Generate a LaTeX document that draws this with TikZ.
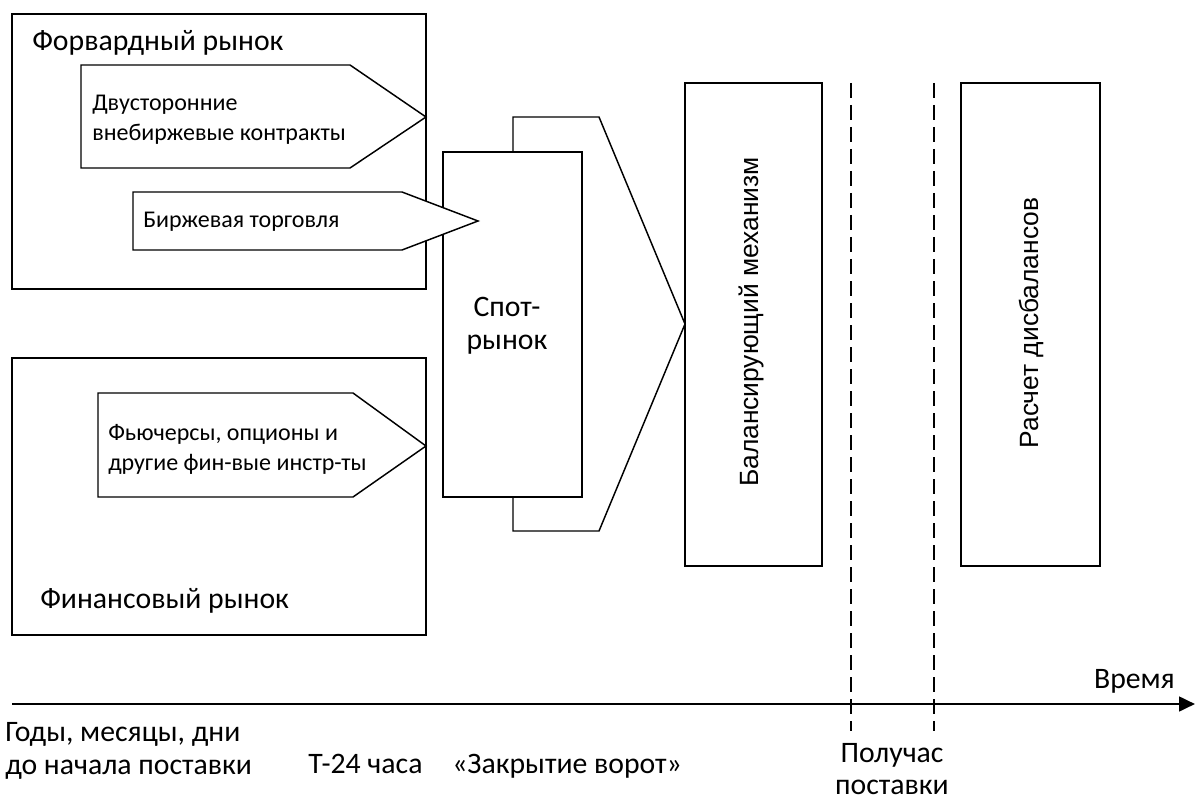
\documentclass[tikz,border=0pt]{standalone}
\usepackage{fontspec}
\setmainfont{Carlito}
\newfontfamily\arialf{Liberation Sans}
\usetikzlibrary{arrows.meta}
\begin{document}
\begin{tikzpicture}[x=0.75pt,y=-0.75pt,
  shapeline/.style={draw=black, line width=1.1pt, fill=white, line join=miter},
  bigtext/.style={font=\fontsize{22.3}{25}\selectfont, inner sep=0pt},
  smalltext/.style={font=\fontsize{18}{22.5}\selectfont, inner sep=0pt, align=left},
  verttext/.style={font=\arialf\fontsize{19.8}{23}\selectfont, rotate=90, inner sep=0pt},
  dline/.style={line width=1.5pt, dash pattern=on 11pt off 5.5pt}]
\useasboundingbox (0,0) rectangle (1195,802);
\fill[white] (0,0) rectangle (1195,802);

% forward market
\draw[shapeline] (12,14) rectangle (426,289);
\node[bigtext, anchor=base west] (fwdT) at (32,51) {Форвардный рынок};
% financial market
\draw[shapeline] (12,358) rectangle (426,635);
\node[bigtext, anchor=base west] (finT) at (40,608) {Финансовый рынок};

% large arrow behind spot market
\draw[shapeline] (513,117) -- (599,117) -- (685,324) -- (599,531) -- (513,531) -- cycle;
% spot market
\draw[shapeline] (443,152) rectangle (582,497);
\node[bigtext, align=center] (spot) at (507,326) {Спот-\\рынок};

% arrow 1
\draw[shapeline] (81,65) -- (350,65) -- (426,117) -- (350,168) -- (81,168) -- cycle;
\node[smalltext, anchor=west] (otc) at (92,120) {Двусторонние\\внебиржевые контракты};
% arrow 2
\draw[shapeline] (133,192) -- (402,192) -- (478,221) -- (402,250) -- (133,250) -- cycle;
\node[smalltext, anchor=west] (exch) at (143,222) {Биржевая торговля};
% arrow 3
\draw[shapeline] (98,393) -- (353,393) -- (426,446) -- (353,497) -- (98,497) -- cycle;
\node[smalltext, anchor=west] (fut) at (108,449) {Фьючерсы, опционы и\\другие фин-вые инстр-ты};

% balancing mechanism
\draw[shapeline] (685,83) rectangle (822,566);
\node[verttext] (bal) at (751,322) {Балансирующий механизм};
% imbalance settlement
\draw[shapeline] (961,83) rectangle (1100,566);
\node[verttext] (calc) at (1031,323) {Расчет дисбалансов};

% dashed lines
\coordinate (d1t) at (851,83); \coordinate (d1b) at (851,731);
\coordinate (d2t) at (934,83); \coordinate (d2b) at (934,731);
\draw[dline] (d1t) -- (d1b);
\draw[dline] (d2t) -- (d2b);

% time axis
\coordinate (ax0) at (12,704);
\coordinate (ax1) at (1195,704);
\draw[line width=2pt, -{Triangle[length=12pt,width=11pt]}] (ax0) -- (ax1);
\node[bigtext, anchor=base east] (time) at (1175,688) {Время};

% labels under axis
\node[bigtext, anchor=base west] (years) at (5,741) {Годы, месяцы, дни};
\node[bigtext, anchor=base west] (years2) at (5,774) {до начала поставки};
\node[bigtext, anchor=base west] (t24) at (308,773) {Т-24 часа};
\node[bigtext, anchor=base west] (gate) at (452,773) {«Закрытие ворот»};
\node[bigtext, anchor=base] (half) at (892,762) {Получас};
\node[bigtext, anchor=base] (half2) at (892,794) {поставки};
\end{tikzpicture}
\end{document}
